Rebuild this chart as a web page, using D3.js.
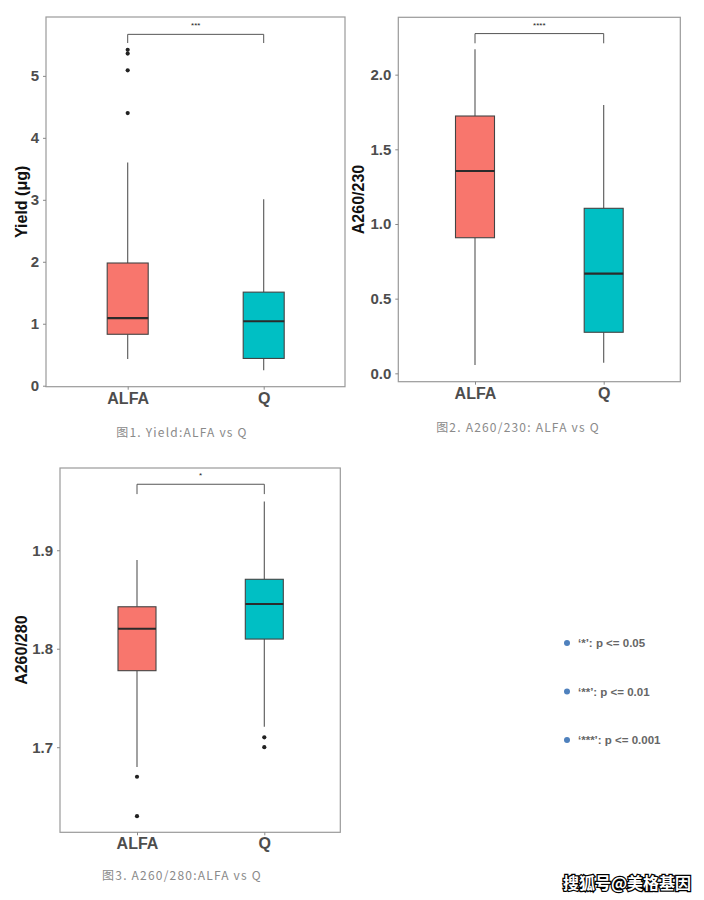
<!DOCTYPE html>
<html><head><meta charset="utf-8">
<script src="https://cdn.jsdelivr.net/npm/d3@7"></script>
<style>
body{margin:0;background:#fff;}
svg{display:block;}
</style></head>
<body>
<svg id="c" width="704" height="900"></svg>
<script>
// ---- data ----
const categories = ["ALFA", "Q"];
const colors = ["#F8766D", "#00BFC4"];
// box stats: [lowerWhisker, q1, median, q3, upperWhisker]
const yieldStats = [[0.43, 0.83, 1.09, 1.98, 3.6], [0.25, 0.44, 1.04, 1.51, 3.01]];
const yieldOutliers = [[4.40, 5.09, 5.36, 5.42], []];
const yieldTicks = [0, 1, 2, 3, 4, 5];
const a230Stats = [[0.056, 0.908, 1.355, 1.723, 2.17], [0.071, 0.275, 0.667, 1.105, 1.797]];
const a230Outliers = [[], []];
const a230Ticks = [0.0, 0.5, 1.0, 1.5, 2.0];
const a280Stats = [[1.680, 1.7777, 1.8203, 1.8426, 1.890], [1.7208, 1.8098, 1.8454, 1.8705, 1.9496]];
const a280Outliers = [[1.670, 1.630], [1.710, 1.700]];
const a280Ticks = [1.7, 1.8, 1.9];
const sigLabels = ["***", "****", "*"];
const bracketValues = [[5.53, 5.67], [2.21, 2.275], [1.957, 1.967]];
const captions = ["图1. Yield:ALFA vs Q", "图2. A260/230: ALFA vs Q", "图3. A260/280:ALFA vs Q"];
const yTitles = ["Yield (μg)", "A260/230", "A260/280"];
const legendItems = ["‘*’: p <= 0.05", "‘**’: p <= 0.01", "‘***’: p <= 0.001"];
const watermark = "搜狐号@美格基因";

const svg = d3.select("#c");
const FONT = "'Liberation Sans', Arial, sans-serif";

function panel(o) {
  const g = svg.append("g");
  const y = d3.scaleLinear().domain(o.domain).range([o.bottom, o.top]);
  const x = d3.scalePoint().domain(categories).range(o.xr);
  // border
  g.append("rect").attr("x", o.left).attr("y", o.top)
    .attr("width", o.right - o.left).attr("height", o.bottom - o.top)
    .attr("fill", "none").attr("stroke", "#9a9a9a").attr("stroke-width", 1.2);
  // y axis
  const ya = g.append("g").attr("transform", `translate(${o.left},0)`)
    .call(d3.axisLeft(y).tickValues(o.ticks).tickSize(3).tickFormat(o.fmt));
  ya.select(".domain").remove();
  ya.selectAll("line").attr("stroke", "#888");
  ya.selectAll("text").attr("font-family", FONT).attr("font-size", 15)
    .attr("font-weight", "bold").attr("fill", "#4d4d4d").attr("dx", -1);
  // x axis
  const xa = g.append("g").attr("transform", `translate(0,${o.bottom})`)
    .call(d3.axisBottom(x).tickSize(3));
  xa.select(".domain").remove();
  xa.selectAll("line").attr("stroke", "#888");
  xa.selectAll("text").attr("font-family", FONT).attr("font-size", 16)
    .attr("font-weight", "bold").attr("fill", "#4d4d4d").attr("dy", "0.68em");
  // y title
  g.append("text").attr("transform", `translate(${o.ytx},${(o.top + o.bottom) / 2}) rotate(-90)`)
    .attr("text-anchor", "middle").attr("font-family", FONT).attr("font-size", 16)
    .attr("font-weight", "bold").attr("fill", "#111").text(o.ytitle);
  // boxes
  const bw = o.bw;
  o.stats.forEach((s, i) => {
    const cx = x(categories[i]);
    g.append("line").attr("x1", cx).attr("x2", cx).attr("y1", y(s[0])).attr("y2", y(s[1]))
      .attr("stroke", "#555").attr("stroke-width", 1.1);
    g.append("line").attr("x1", cx).attr("x2", cx).attr("y1", y(s[3])).attr("y2", y(s[4]))
      .attr("stroke", "#555").attr("stroke-width", 1.1);
    g.append("rect").attr("x", cx - bw / 2).attr("y", y(s[3]))
      .attr("width", bw).attr("height", y(s[1]) - y(s[3]))
      .attr("fill", colors[i]).attr("stroke", "#444").attr("stroke-width", 1.1);
    g.append("line").attr("x1", cx - bw / 2).attr("x2", cx + bw / 2)
      .attr("y1", y(s[2])).attr("y2", y(s[2]))
      .attr("stroke", "#2b2b2b").attr("stroke-width", 2.2);
    o.outliers[i].forEach(v => {
      g.append("circle").attr("cx", cx).attr("cy", y(v)).attr("r", 2.1).attr("fill", "#222");
    });
  });
  // bracket
  const x1 = x(categories[0]), x2 = x(categories[1]);
  const [lo, hi] = o.bracket;
  g.append("path").attr("d", `M${x1},${y(lo)}V${y(hi)}H${x2}V${y(lo)}`)
    .attr("fill", "none").attr("stroke", "#555").attr("stroke-width", 1);
  g.append("text").attr("x", (x1 + x2) / 2).attr("y", y(hi) - 6)
    .attr("text-anchor", "middle").attr("font-family", FONT).attr("font-size", 8)
    .attr("fill", "#222").text(o.sig);
  // caption
  svg.append("text").attr("x", o.capx).attr("y", o.capy).attr("text-anchor", "middle")
    .attr("font-family", "'Noto Sans CJK SC', 'DejaVu Sans', sans-serif").attr("font-size", 12)
    .attr("letter-spacing", 1.2).attr("fill", "#8a8a8a").text(o.caption);
}

panel({ left: 46, right: 345, top: 17, bottom: 386.7, domain: [-0.016, 5.95], xr: [127.7, 263.7], bw: 41,
  ticks: yieldTicks, fmt: d3.format("d"), stats: yieldStats, outliers: yieldOutliers, bracket: bracketValues[0],
  sig: sigLabels[0], ytitle: yTitles[0], ytx: 27, caption: captions[0], capx: 182, capy: 437 });
panel({ left: 398.3, right: 680.3, top: 17.3, bottom: 381.7, domain: [-0.056, 2.384], xr: [475, 603.7], bw: 39,
  ticks: a230Ticks, fmt: d3.format(".1f"), stats: a230Stats, outliers: a230Outliers, bracket: bracketValues[1],
  sig: sigLabels[1], ytitle: yTitles[1], ytx: 364, caption: captions[1], capx: 518, capy: 432 });
panel({ left: 60, right: 340.3, top: 468, bottom: 832.3, domain: [1.6136, 1.9835], xr: [137, 264.3], bw: 38,
  ticks: a280Ticks, fmt: d3.format(".1f"), stats: a280Stats, outliers: a280Outliers, bracket: bracketValues[2],
  sig: sigLabels[2], ytitle: yTitles[2], ytx: 27, caption: captions[2], capx: 182, capy: 880 });

// legend
const leg = svg.append("g");
legendItems.forEach((t, i) => {
  const yy = 643 + i * 48.5;
  leg.append("circle").attr("cx", 567).attr("cy", yy).attr("r", 3).attr("fill", "#4f81bd");
  leg.append("text").attr("x", 578).attr("y", yy + 4).attr("font-family", "'Liberation Sans', Arial, sans-serif")
    .attr("font-size", 11.5).attr("font-weight", "bold").attr("fill", "#666").text(t);
});
// watermark
svg.append("text").attr("x", 627).attr("y", 889).attr("text-anchor", "middle")
  .attr("font-family", "'Noto Sans CJK SC', sans-serif").attr("font-size", 16).attr("font-weight", "bold")
  .attr("fill", "#fff").attr("stroke", "#000").attr("stroke-width", 2.5).attr("paint-order", "stroke")
  .text(watermark);
</script>
</body></html>
